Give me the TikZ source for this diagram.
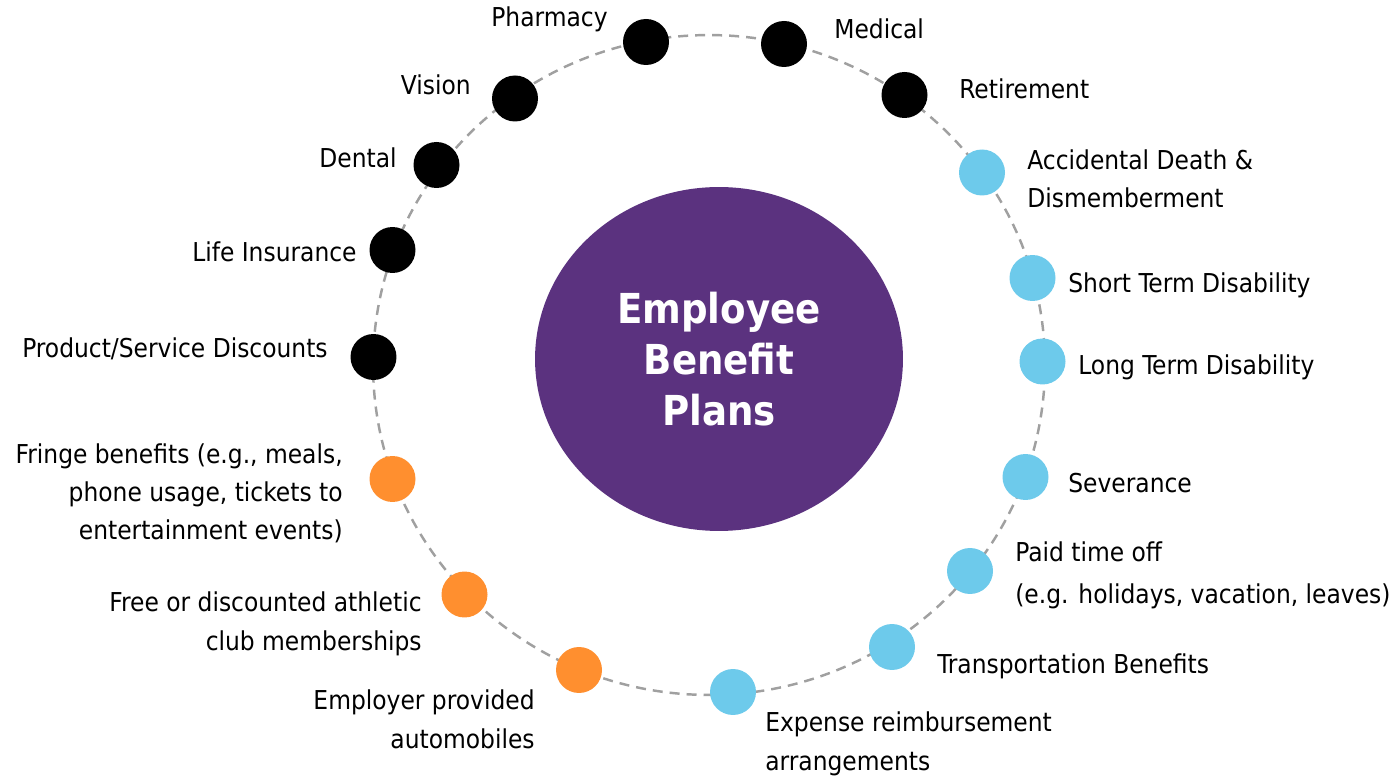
\documentclass[tikz,border=0pt]{standalone}
\usepackage{fontspec}
\setmainfont{DejaVu Sans Condensed}[BoldFont={DejaVu Sans Condensed Bold}]
\usetikzlibrary{positioning,shapes.geometric}

\definecolor{planpurple}{RGB}{91,50,127}
\definecolor{planblue}{RGB}{109,202,235}
\definecolor{planorange}{RGB}{255,143,47}
\definecolor{ringgray}{RGB}{160,160,160}

\tikzset{
  ring/.style={draw=ringgray, line width=1.4pt, dash pattern=on 0.2cm off 0.14cm},
  hub/.style={ellipse, fill=planpurple, text=white, minimum width=7.36cm,
    minimum height=6.88cm, inner sep=0pt, align=center,
    font=\fontsize{23.5}{28.9}\selectfont\bfseries},
  dot/.style={circle, minimum size=0.92cm, inner sep=0pt},
  lbl/.style={inner sep=0pt, font=\fontsize{14.8}{21.8}\selectfont}
}

\begin{document}
\begin{tikzpicture}[x=0.02cm, y=-0.02cm]
\useasboundingbox (0,0) rectangle (1393,776);

\draw [ring] (709,365) ellipse [x radius=6.72cm, y radius=6.6cm];

\node [hub] (hub) at (719,359) {Employee\\Benefit\\Plans};

% black: health and insurance
\node [dot, fill=black] (pharmacy) at (646,42) {};
\node [dot, fill=black] (medical) at (784,44) {};
\node [dot, fill=black] (retirement) at (904.5,95) {};
\node [dot, fill=black] (vision) at (515,98.5) {};
\node [dot, fill=black] (dental) at (436.5,165) {};
\node [dot, fill=black] (life) at (392.5,250) {};
\node [dot, fill=black] (discounts) at (373.5,357) {};

% blue
\node [dot, fill=planblue] (add) at (982,172.5) {};
\node [dot, fill=planblue] (std) at (1032.5,278) {};
\node [dot, fill=planblue] (ltd) at (1042.5,361.5) {};
\node [dot, fill=planblue] (severance) at (1025.5,477) {};
\node [dot, fill=planblue] (pto) at (970,571) {};
\node [dot, fill=planblue] (transport) at (892,647) {};
\node [dot, fill=planblue] (expense) at (733,692) {};

% orange: fringe
\node [dot, fill=planorange] (fringe) at (392.5,479) {};
\node [dot, fill=planorange] (athletic) at (464.5,594.5) {};
\node [dot, fill=planorange] (auto) at (579,670) {};

% labels, right side (multi-line ones sit on their last line)
\node [lbl, anchor=base west] (medical-lbl) at (834,39) {Medical};
\node [lbl, anchor=base west] (retirement-lbl) at (959,99) {Retirement};
\node [lbl, anchor=base west, align=left] (add-lbl) at (1027,208) {Accidental Death \&\\Dismemberment};
\node [lbl, anchor=base west] (std-lbl) at (1068,293) {Short Term Disability};
\node [lbl, anchor=base west] (ltd-lbl) at (1078,375) {Long Term Disability};
\node [lbl, anchor=base west] (severance-lbl) at (1068,493) {Severance};
\node [lbl, anchor=base west, align=left, font=\fontsize{14.8}{23.5}\selectfont] (pto-lbl) at (1015,603) {Paid time off\\(e.g. holidays, vacation, leaves)};
\node [lbl, anchor=base west] (transport-lbl) at (937,673) {Transportation Benefits};
\node [lbl, anchor=base west, align=left] (expense-lbl) at (765,770) {Expense reimbursement\\arrangements};

% labels, left side
\node [lbl, anchor=base east] (pharmacy-lbl) at (608,27) {Pharmacy};
\node [lbl, anchor=base east] (vision-lbl) at (471,95) {Vision};
\node [lbl, anchor=base east] (dental-lbl) at (397,168) {Dental};
\node [lbl, anchor=base east] (life-lbl) at (357,262) {Life Insurance};
\node [lbl, anchor=base east] (discounts-lbl) at (328,358) {Product/Service Discounts};
\node [lbl, anchor=base east, align=right] (fringe-lbl) at (343,540) {Fringe benefits (e.g., meals,\\phone usage, tickets to\\entertainment events)};
\node [lbl, anchor=base east, align=right] (athletic-lbl) at (422,650) {Free or discounted athletic\\club memberships};
\node [lbl, anchor=base east, align=right] (auto-lbl) at (535,748) {Employer provided\\automobiles};

\end{tikzpicture}
\end{document}
